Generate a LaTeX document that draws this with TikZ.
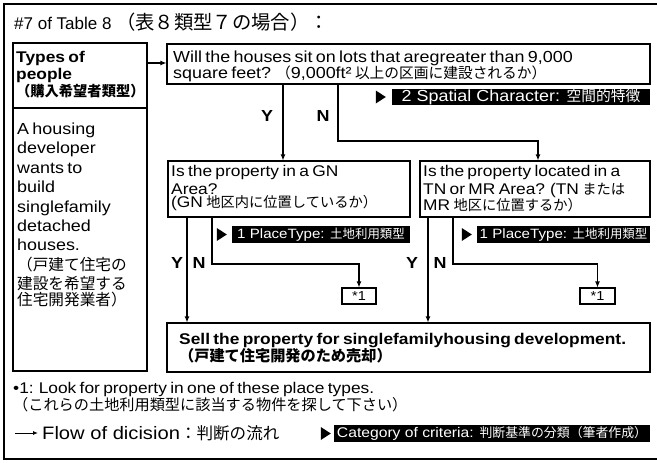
\documentclass[tikz,border=0pt]{standalone}
\usepackage{fontspec}
\setmainfont{Liberation Sans}[FakeStretch=1.12]
\newfontfamily\plainfont{Liberation Sans}
\newfontfamily\cjk{Noto Sans CJK JP}[Scale=0.92]
\usetikzlibrary{arrows.meta,fit}
\newcommand\jp[1]{{\cjk #1}}
\newcommand\fsz[2]{\fontsize{#1}{#2}\selectfont}
\begin{document}
\begin{tikzpicture}[x=1pt,y=-1pt,
  box/.style={draw,line width=1.1pt,inner sep=0pt},
  lab/.style={fill=black,text=white,inner sep=0pt},
  txt/.style={anchor=base west,inner sep=0pt,align=left},
  yn/.style={anchor=base,inner sep=0pt,font=\bfseries\fsz{16}{16}},
  arr/.style={line width=1.1pt,-{Latex[length=6pt,width=5pt]}},
  tri/.style={fill=black}]
\path[use as bounding box] (0,0) rectangle (657,463);
\draw[line width=1.3pt] (657,4) -- (4,4) -- (4,459) -- (657,459);

% title
\node[txt] (title) at (14,29) {\plainfont\fsz{17}{20}\#7 of Table 8 \jp{\fsz{21}{21}（表８類型７の場合）：}};

% left boxes
\node[box,fit={(13,43) (147,108)}] (types) {};
\node[box,fit={(13,108) (147,371)}] (dev) {};
\node[txt,text width=130pt] (tyt) at (16,62) {\bfseries\fsz{15.5}{17.5}Types of\\people\\\jp{（購入希望者類型）}};
\node[txt,text width=130pt] (dvt) at (17,134) {\fsz{16}{19.5}A housing\\developer\\wants to\\build\\singlefamily\\detached\\houses.\\\jp{\fsz{17}{19.5}（戸建て住宅の\\建設を希望する\\住宅開発業者）}};

% question boxes
\node[box,fit={(167,44) (650,84)}] (q1) {};
\node[txt,text width=480pt] (q1t) at (173,62) {\fsz{16}{18}Will the houses sit on lots that aregreater than 9,000\\square feet? \jp{（}9,000ft² \jp{以上の区画に建設されるか）}};
\node[box,fit={(168,161) (410,217)}] (q2) {};
\node[txt,text width=240pt] (q2t) at (171,176.5) {\fsz{15.5}{17.7}Is the property in a GN\\Area?\\(GN \jp{地区内に位置しているか）}};
\node[box,fit={(420,161) (650,217)}] (q3) {};
\node[txt,text width=228pt] (q3t) at (423,176.5) {\fsz{15.5}{17.7}Is the property located in a\\TN or MR Area? (TN \jp{または}\\MR \jp{地区に位置するか）}};

% result boxes
\node[box,minimum width=34pt,minimum height=16pt] (s1) at (359,296) {\fsz{13}{13}*1};
\node[box,minimum width=35pt,minimum height=16pt] (s2) at (597.5,296) {\fsz{13}{13}*1};
\node[box,fit={(167,323) (650,372)}] (sell) {};
\node[txt,text width=480pt] (st) at (179,344) {\bfseries\fsz{15.5}{21}Sell the property for singlefamilyhousing development.\\\jp{\fsz{16.5}{21}（戸建て住宅開発のため売却）}};

% category labels
\node[lab,minimum width=258pt,minimum height=16pt] (sc) at (521,97) {\fsz{16}{16}2 Spatial Character: \jp{空間的特徴}};
\fill[tri] ([xshift=-16pt,yshift=6.5pt]sc.west) -- ([xshift=-6pt]sc.west) -- ([xshift=-16pt,yshift=-6.5pt]sc.west) -- cycle;
\node[lab,minimum width=178pt,minimum height=17pt] (pt1) at (321,234.5) {\fsz{13.5}{14}1 PlaceType: \jp{土地利用類型}};
\fill[tri] ([xshift=-15pt,yshift=6.5pt]pt1.west) -- ([xshift=-5pt]pt1.west) -- ([xshift=-15pt,yshift=-6.5pt]pt1.west) -- cycle;
\node[lab,minimum width=173pt,minimum height=17pt] (pt2) at (563.5,234.5) {\fsz{13.5}{14}1 PlaceType: \jp{土地利用類型}};
\fill[tri] ([xshift=-15pt,yshift=6.5pt]pt2.west) -- ([xshift=-5pt]pt2.west) -- ([xshift=-15pt,yshift=-6.5pt]pt2.west) -- cycle;

% Y / N labels
\node[yn] (y1) at (267,121) {Y};
\node[yn] (n1) at (323,121) {N};
\node[yn] (y2) at (177,268) {Y};
\node[yn] (n2) at (199,268) {N};
\node[yn] (y3) at (412,268) {Y};
\node[yn] (n3) at (440,268) {N};

% connectors
\coordinate (ya) at (0,63);
\coordinate (xA) at (283,0);
\coordinate (xB) at (338,0);
\coordinate (yB) at (0,141);
\coordinate (xC) at (538,0);
\coordinate (xD) at (187,0);
\coordinate (xE) at (212,0);
\coordinate (yE) at (0,264);
\coordinate (xF) at (428,0);
\coordinate (xG) at (453,0);
\draw[arr] (types.east |- ya) -- (q1.west |- ya);
\draw[arr] (xA |- q1.south) -- (xA |- q2.north);
\draw[arr] (xB |- q1.south) |- (xC |- yB) -- (xC |- q3.north);
\draw[arr] (xD |- q2.south) -- (xD |- sell.north);
\draw[arr] (xE |- q2.south) |- (s1.north |- yE) -- (s1.north);
\draw[arr] (xF |- q3.south) -- (xF |- sell.north);
\draw[arr] (xG |- q3.south) |- (s2.north |- yE) -- (s2.north);

% footnote and legend
\node[txt,text width=620pt] (fn) at (13,393) {\fsz{15.5}{16}•1: Look for property in one of these place types.\\\jp{\fsz{16.5}{16}（これらの土地利用類型に該当する物件を探して下さい）}};
\coordinate (la) at (15,433);
\coordinate (lb) at (38,433);
\draw[line width=0.9pt,-{Latex[length=5pt,width=4pt]}] (la) -- (lb);
\node[txt] (lt) at (42,439) {\fsz{18}{18}Flow of dicision\jp{：判断の流れ}};
\node[lab,minimum width=316pt,minimum height=17pt] (cat) at (492,433.5) {\fsz{14}{14}Category of criteria: \jp{判断基準の分類（筆者作成）}};
\fill[tri] ([xshift=-13pt,yshift=6.5pt]cat.west) -- ([xshift=-3pt]cat.west) -- ([xshift=-13pt,yshift=-6.5pt]cat.west) -- cycle;
\end{tikzpicture}
\end{document}
